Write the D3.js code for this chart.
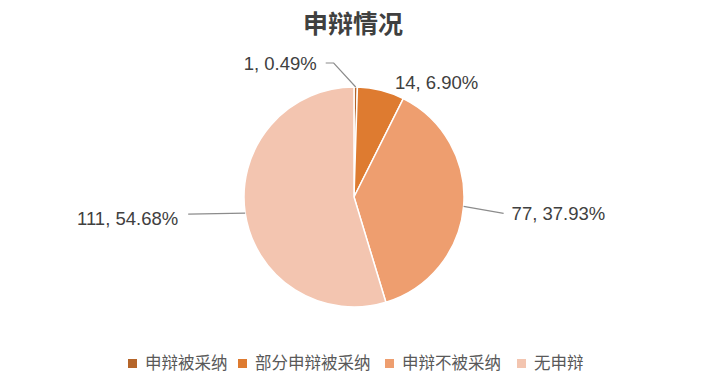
<!DOCTYPE html>
<html><head><meta charset="utf-8">
<script src="https://cdn.jsdelivr.net/npm/d3@7"></script>
<style>body{margin:0;background:#fff}svg{display:block}</style>
</head><body>
<script>
const title = "申辩情况";
const categories = ["申辩被采纳", "部分申辩被采纳", "申辩不被采纳", "无申辩"];
const values = [1, 14, 77, 111];
const percentLabels = ["0.49%", "6.90%", "37.93%", "54.68%"];
const colors = ["#b5652a", "#de7b30", "#ee9e6f", "#f3c5b0"];

const W = 711, H = 381;
const cx = 354, cy = 197, R = 110;
const svg = d3.select("body").append("svg").attr("width", W).attr("height", H);
const fontNum = "'Liberation Sans', Arial, 'Noto Sans CJK SC', sans-serif";
const fontCJK = "'Noto Sans CJK SC', sans-serif";

svg.append("text").attr("x", 353).attr("y", 24).attr("dy", "0.35em").attr("text-anchor", "middle")
  .attr("font-family", fontCJK).attr("font-weight", "bold").attr("font-size", 25)
  .attr("fill", "#404040").text(title);

const pie = d3.pie().sort(null).value(d => d)(values);
const arc = d3.arc().innerRadius(0).outerRadius(R);
const g = svg.append("g").attr("transform", `translate(${cx},${cy})`);
g.selectAll("path").data(pie).join("path")
  .attr("d", arc).attr("fill", (d, i) => colors[i])
  .attr("stroke", "#fff").attr("stroke-width", 1.5);

// label placement relative to the slice's edge midpoint
const labelCfg = [
  {tx: -39, ty: -24, anchor: "end", leader: [[-22, -24], [-30, -24]]},
  {tx: 14, ty: -8, anchor: "start", leader: null},
  {tx: 48, ty: 7, anchor: "start", leader: [[40, 7]]},
  {tx: -67, ty: 5, anchor: "end", leader: [[-57, 1]]}
];
pie.forEach((d, i) => {
  const a = (d.startAngle + d.endAngle) / 2;
  const ex = Math.sin(a) * R, ey = -Math.cos(a) * R;
  const c = labelCfg[i];
  const lx = ex + c.tx, ly = ey + c.ty;
  if (c.leader) {
    const pts = [[ex, ey]].concat(c.leader.map(p => [ex + p[0], ey + p[1]]));
    g.append("polyline")
      .attr("points", pts.map(p => p.join(",")).join(" "))
      .attr("fill", "none").attr("stroke", "#8c8c8c").attr("stroke-width", 1.2);
  }
  g.append("text").attr("x", lx).attr("y", ly).attr("dy", "0.35em")
    .attr("text-anchor", c.anchor).attr("font-family", fontNum).attr("font-size", 18.5)
    .attr("fill", "#404040").text(`${values[i]}, ${percentLabels[i]}`);
});

// legend
const legX = [128, 238, 385, 517];
const leg = svg.append("g");
categories.forEach((c, i) => {
  leg.append("rect").attr("x", legX[i]).attr("y", 359).attr("width", 9).attr("height", 9).attr("fill", colors[i]);
  leg.append("text").attr("x", legX[i] + 17).attr("y", 363).attr("dy", "0.35em")
    .attr("font-family", fontCJK).attr("font-size", 16.5).attr("fill", "#595959").text(c);
});
</script>
</body></html>
